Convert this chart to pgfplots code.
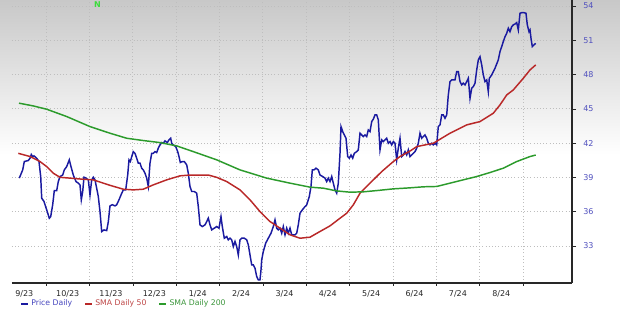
\documentclass[border=0pt]{standalone}
\usepackage{pgfplots}
\pgfplotsset{compat=1.18}
\usepackage{fontspec}
\setmainfont{DejaVu Sans}
\pgfdeclarelayer{background}
\pgfsetlayers{background,main}
\definecolor{pricec}{RGB}{26,26,160}
\definecolor{smaA}{RGB}{185,40,40}
\definecolor{smaB}{RGB}{44,155,44}
\definecolor{tickc}{RGB}{80,80,190}
\definecolor{axisc}{RGB}{40,40,40}
\definecolor{gridc}{RGB}{190,190,190}
\definecolor{bgtop}{RGB}{200,200,200}
\definecolor{ngreen}{RGB}{60,220,60}
\definecolor{legblue}{RGB}{70,70,190}
\definecolor{legred}{RGB}{190,70,70}
\definecolor{leggreen}{RGB}{60,150,60}
\begin{document}
\begin{tikzpicture}
\begin{axis}[
  scale only axis, width=420pt, height=212.25pt,
  xmin=12, xmax=572, ymin=29.75, ymax=54.52,
  axis x line*=bottom, axis y line*=right,
  axis line style={line width=1.2pt, color=axisc},
  xtick={24.3,67.7,111.0,154.4,197.8,241.1,284.5,327.8,371.2,414.6,457.9,501.3},
  xticklabels={9/23,10/23,11/23,12/23,1/24,2/24,3/24,4/24,5/24,6/24,7/24,8/24},
  major x tick style={draw=none},
  minor xtick={46,89.4,132.7,176.1,219.4,262.8,306.2,349.5,392.9,436.2,479.6,523},
  xminorgrids, ymajorgrids,
  grid style={dotted, gridc, line width=0.5pt},
  minor grid style={dotted, gridc, line width=0.5pt},
  minor x tick style={color=axisc},
  ytick={33,36,39,42,45,48,51,54},
  y tick style={color=axisc},
  tick align=outside,
  major tick length=3pt, minor tick length=2pt,
  /pgf/number format/assume math mode=true,
  tick label style={font=\fontsize{6}{7}\selectfont},
  yticklabel style={text=tickc, xshift=2pt},
  xticklabel style={text=axisc, yshift=1pt},
  clip mode=individual,
  legend style={at={(axis description cs:0,0)}, anchor=north west, xshift=5pt, yshift=-9.5pt,
    draw=none, fill=none, legend columns=3, font=\fontsize{5.8}{7}\selectfont,
    inner sep=1pt,
    /tikz/every even column/.append style={column sep=7pt}},
  legend image code/.code={\draw[#1, line width=1.3pt] (0pt,0pt) -- (5pt,0pt);},
]
\addplot[pricec, line width=1.1pt] coordinates {
(19.3,38.93) (22.7,39.65) (24.3,40.38) (28.3,40.47) (30,40.67) (31.3,41.0) (32.7,40.8) (34,40.88) (36.7,40.67) (39,40.38) (40.7,39.06) (41.7,37.18) (44,36.88) (46.7,36.15) (49.3,35.42) (50.7,35.56) (52.7,36.6) (54.3,37.84) (56.7,37.84) (58.3,38.63) (60,39.07) (62.7,39.2) (64.3,39.65) (66.7,39.94) (69.3,40.53) (71,39.94) (73.3,39.2) (76,38.63) (78.3,38.49) (80,38.34) (81.3,37.03) (82.7,37.76) (84,39.01) (86,38.93) (88.3,38.78) (90,37.46) (91.7,38.78) (93.3,39.01) (95,38.78) (96,38.34) (98.3,37.32) (100,36.0) (101.7,34.25) (104,34.4) (106.7,34.34) (108.3,35.1) (110,36.5) (112.3,36.6) (115,36.5) (116.7,36.6) (119,37.03) (121,37.46) (123.3,37.9) (125.7,37.9) (127.7,39.2) (129,40.53) (130.3,40.38) (131.7,40.8) (133.3,41.25) (135,41.1) (136.7,40.67) (138.3,40.24) (140,40.24) (141.7,39.8) (143.3,39.65) (145,39.36) (146.7,38.93) (148.3,38.2) (150,40.24) (151.7,41.1) (153.3,41.1) (155,41.25) (156.7,41.17) (158.3,41.55) (160,41.84) (161.7,42.04) (163.3,41.98) (165,42.19) (167.3,42.04) (169,42.28) (170.7,42.42) (171.7,41.98) (173.3,41.84) (175.7,41.69) (177.7,41.25) (179,40.82) (180.3,40.3) (182.3,40.38) (184.3,40.38) (186.7,40.09) (188.3,39.36) (190,38.2) (191.7,37.76) (194.3,37.76) (196.7,37.61) (198.3,36.44) (200,34.84) (202.3,34.69) (205,34.84) (206.7,35.13) (208.3,35.42) (210,34.84) (211.7,34.4) (214.3,34.55) (216.7,34.69) (219,34.55) (221,35.56) (222.3,34.69) (224.3,33.67) (226.7,33.82) (228.3,33.53) (230,33.67) (231.7,33.53) (233.3,32.94) (235,33.38) (236.7,32.94) (238.3,32.21) (240,33.53) (241.7,33.67) (244.3,33.67) (246.7,33.53) (248.3,33.09) (250,32.21) (251.7,31.34) (253.3,31.34) (255,31.05) (256.7,30.32) (258.3,30.03) (260,30.03) (261,30.9) (261.7,31.78) (263.3,32.5) (265.7,33.24) (268.3,33.67) (271,34.11) (273.3,34.69) (275,35.28) (276.7,34.55) (278.3,34.4) (280,34.55) (281.7,34.11) (283.3,34.69) (285,33.97) (286.7,34.55) (288.3,34.11) (290,34.55) (291.7,33.97) (295,33.97) (296.7,34.11) (298.3,34.84) (300,35.86) (302.3,36.15) (305,36.44) (306.7,36.59) (309.3,37.32) (311,38.2) (312.3,39.65) (314,39.65) (316,39.8) (318.3,39.65) (320,39.2) (322.7,39.07) (325,38.93) (326.7,38.63) (328.3,38.93) (330,38.63) (331.7,39.07) (333.3,38.49) (335,37.9) (336.7,37.61) (338.3,38.49) (340,41.1) (341,43.44) (342.7,43.0) (344.3,42.71) (346,42.42) (347.7,40.82) (349.3,40.67) (351,40.96) (352.7,40.67) (354.3,41.1) (356.7,41.25) (358.3,41.4) (360,42.86) (361.7,42.71) (363.3,42.57) (365,42.71) (366.7,42.57) (368.3,43.15) (370,43.0) (371.7,43.88) (373.3,44.09) (375,44.46) (376.7,44.46) (378.3,44.03) (380,41.4) (381.7,42.28) (383.3,42.13) (385,42.28) (386.7,42.42) (388.3,41.98) (390,42.13) (391.7,41.84) (393.3,42.13) (395,41.98) (396.7,40.53) (398.3,41.55) (400,42.42) (401.7,40.82) (403.3,40.96) (405,41.25) (406.7,40.96) (408.3,41.4) (410,40.82) (411.7,40.96) (413.3,41.1) (415,41.25) (416.7,41.55) (418.3,41.98) (420,42.86) (421.7,42.42) (423.3,42.57) (425,42.71) (426.7,42.42) (428.3,41.98) (430,41.84) (431.7,41.98) (433.3,41.84) (435,41.98) (436.7,41.84) (438.3,43.44) (440,43.59) (441.7,44.46) (443.3,44.46) (445,44.17) (446.7,44.46) (448.3,46.21) (450,47.38) (451.7,47.53) (453.3,47.53) (455,47.53) (456.7,48.26) (458.3,48.26) (460,47.38) (461.7,47.09) (463.3,47.24) (465,47.09) (466.7,47.38) (468.3,47.67) (470,45.92) (471.7,46.8) (473.3,46.94) (475,47.24) (476.7,48.4) (478.3,49.28) (480,49.56) (481.7,48.84) (483.3,47.96) (485,47.38) (486.7,47.53) (488.3,46.5) (489.3,47.67) (491.7,47.96) (495,48.55) (498.3,49.28) (500,50.01) (501.7,50.44) (503.3,50.88) (505,51.31) (506.7,51.61) (508.3,52.05) (510,51.75) (511.7,52.19) (513.3,52.34) (515,52.42) (516.7,52.54) (518.3,51.9) (520,53.36) (521.7,53.41) (524,53.41) (526,53.36) (527.3,52.34) (529,51.75) (530,51.9) (531,51.17) (532.3,50.44) (534,50.59) (535.7,50.73)
};
\addlegendentry{\textcolor{legblue}{Price Daily}}
\addplot[smaA, line width=1.1pt] coordinates {
(18.3,41.1) (30,40.82) (40,40.38) (46.7,39.94) (53.3,39.36) (60,39.0) (70,38.93) (83.3,38.83) (93.3,38.78) (103.3,38.49) (110,38.3) (123.3,37.96) (133.3,37.9) (143.3,37.96) (153.3,38.34) (166.7,38.78) (180,39.13) (190,39.2) (200,39.2) (208.3,39.2) (216.7,39.0) (226.7,38.63) (240,37.9) (250,37.03) (260,36.0) (270,35.13) (280,34.55) (290,33.97) (300,33.67) (310,33.76) (320,34.26) (330,34.75) (340,35.42) (346.7,35.86) (353.3,36.59) (360,37.61) (370,38.49) (381.7,39.5) (393.3,40.38) (400,40.82) (410,41.3) (416.7,41.69) (433.3,41.98) (450,42.86) (466.7,43.59) (480,43.88) (493.3,44.61) (500,45.34) (506.7,46.21) (513.3,46.65) (523.3,47.67) (530,48.4) (535.7,48.84)
};
\addlegendentry{\textcolor{legred}{SMA Daily 50}}
\addplot[smaB, line width=1.1pt] coordinates {
(19,45.49) (33.3,45.25) (46.7,44.96) (66.7,44.32) (90,43.44) (110,42.86) (126.7,42.42) (143.3,42.22) (160,42.04) (176.7,41.75) (193.3,41.25) (216.7,40.53) (240,39.65) (266.7,38.93) (290,38.49) (310,38.14) (323.3,38.05) (336.7,37.81) (350,37.7) (363.3,37.73) (376.7,37.84) (393.3,37.99) (410,38.08) (423.3,38.17) (436.7,38.2) (450,38.49) (463.3,38.78) (476.7,39.07) (490,39.42) (503.3,39.8) (516.7,40.38) (530,40.82) (535.7,40.95)
};
\addlegendentry{\textcolor{leggreen}{SMA Daily 200}}
\node[font=\bfseries\fontsize{6}{7}\selectfont, text=ngreen] at (axis cs:97.5,54.15) {N};
\end{axis}
\pgfresetboundingbox
\path[use as bounding box] ([xshift=-9pt,yshift=-19.5pt]current axis.south west) rectangle ([xshift=36pt]current axis.north east);
\begin{pgfonlayer}{background}
\shade[top color=bgtop, bottom color=white, middle color=white] ([xshift=-9pt,yshift=-19.5pt]current axis.south west) rectangle ([xshift=36pt]current axis.north east);
\end{pgfonlayer}
\end{tikzpicture}
\end{document}
